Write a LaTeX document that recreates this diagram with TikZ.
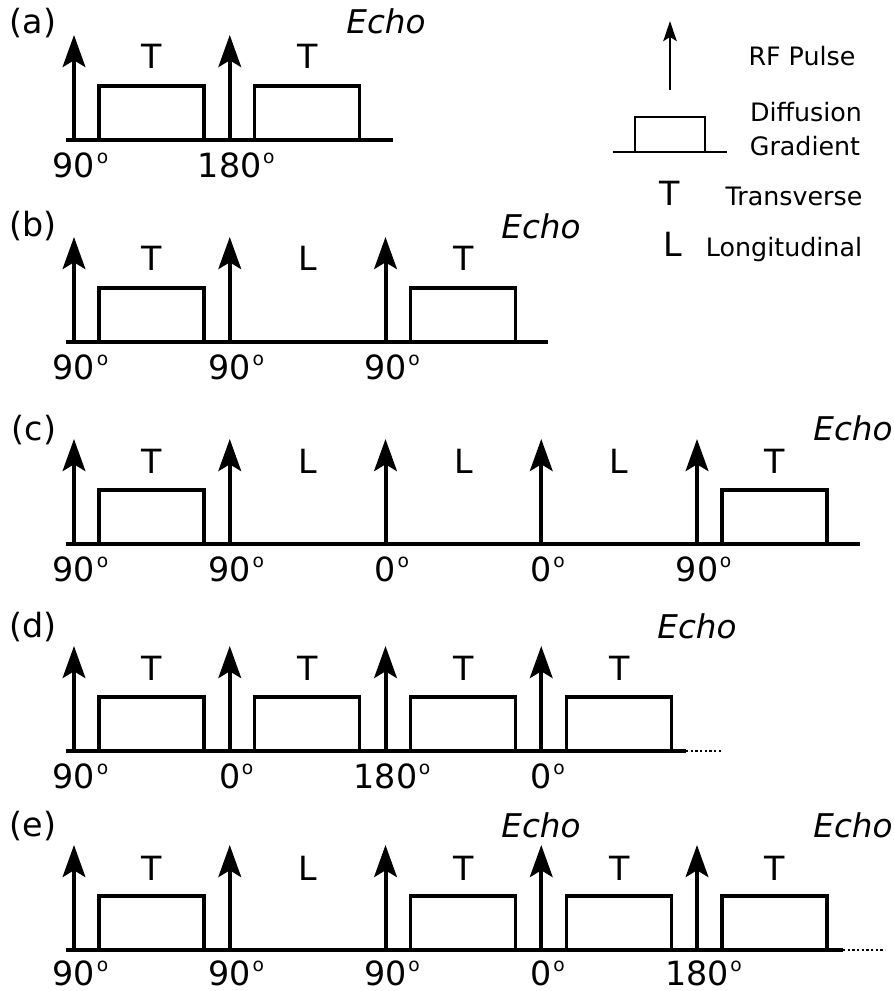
\documentclass[tikz,border=0pt]{standalone}
\usepackage{fontspec}
\setmainfont{DejaVu Sans}
\usetikzlibrary{arrows.meta,positioning}
\tikzset{
    pulseptr/.style={
        -{Stealth[length=24pt,width=17pt,inset=5pt]},
        line width=3pt
    },
    legptr/.style={
        -{Stealth[length=15pt,width=10pt,inset=3pt]},
        line width=2pt
    },
    axisline/.style={line width=3pt},
    dotline/.style={line width=2pt, dash pattern=on 1.7pt off 1.8pt},
    gradbox/.style={line width=2.6pt},
    legline/.style={line width=2.2pt},
    seglbl/.style={font=\fontsize{25}{30}\selectfont, inner sep=0pt},
    anglbl/.style={font=\fontsize{25}{30}\selectfont, inner sep=0pt},
    rowlbl/.style={font=\fontsize{25}{30}\selectfont, inner sep=0pt},
    echolbl/.style={font=\fontsize{24.5}{30}\selectfont\itshape, inner sep=0pt},
    legtxt/.style={font=\fontsize{19}{24.75}\selectfont, inner sep=0pt, anchor=base}
}
\newcommand{\degr}{\rlap{\hspace{1.2pt}\raisebox{10.4pt}{\fontsize{14}{14}\selectfont o}}}

\begin{document}
\begin{tikzpicture}[x=0.75pt, y=-0.75pt]
    \useasboundingbox (0,0) rectangle (893,991);

    % row (a)
    \begin{scope}[shift={(0,140)}]
        \draw[axisline] (66,0) -- (393,0);
        \foreach \k/\ang in {0/90, 1/180}
        {
            \draw[pulseptr] ({74+155.75*\k},0) -- ({74+155.75*\k},-105);
            \node[anglbl] (a-ang\k) at ({74+155.75*\k},25) {\ang\degr};
        }
        \foreach \k/\s in {0/T, 1/T}
        {
            \draw[gradbox] ({99+155.75*\k},0) -- ({99+155.75*\k},-54) -- ({204+155.75*\k},-54) -- ({204+155.75*\k},0);
            \node[seglbl] (a-seg\k) at ({152+155.75*\k},-84) {\s};
        }
        \node[rowlbl] (a-lbl) at (33,-117) {(a)};
        \node[echolbl] (a-echo) at (386,-119) {Echo};
    \end{scope}

    % row (b)
    \begin{scope}[shift={(0,342)}]
        \draw[axisline] (66,0) -- (548,0);
        \foreach \k/\ang in {0/90, 1/90, 2/90}
        {
            \draw[pulseptr] ({74+155.75*\k},0) -- ({74+155.75*\k},-105);
            \node[anglbl] (b-ang\k) at ({74+155.75*\k},25) {\ang\degr};
        }
        \foreach \k in {0, 2}
            \draw[gradbox] ({99+155.75*\k},0) -- ({99+155.75*\k},-54) -- ({204+155.75*\k},-54) -- ({204+155.75*\k},0);
        \foreach \k/\s in {0/T, 1/L, 2/T}
            \node[seglbl] (b-seg\k) at ({152+155.75*\k},-84) {\s};
        \node[rowlbl] (b-lbl) at (33,-116) {(b)};
        \node[echolbl] (b-echo) at (541,-116) {Echo};
    \end{scope}

    % row (c)
    \begin{scope}[shift={(0,544)}]
        \draw[axisline] (66,0) -- (860,0);
        \foreach \k/\ang in {0/90, 1/90, 2/0, 3/0, 4/90}
        {
            \draw[pulseptr] ({74+155.75*\k},0) -- ({74+155.75*\k},-105);
            \node[anglbl] (c-ang\k) at ({74+155.75*\k},25) {\ang\degr};
        }
        \foreach \k in {0, 4}
            \draw[gradbox] ({99+155.75*\k},0) -- ({99+155.75*\k},-54) -- ({204+155.75*\k},-54) -- ({204+155.75*\k},0);
        \foreach \k/\s in {0/T, 1/L, 2/L, 3/L, 4/T}
            \node[seglbl] (c-seg\k) at ({152+155.75*\k},-83) {\s};
        \node[rowlbl] (c-lbl) at (34,-114) {(c)};
        \node[echolbl] (c-echo) at (853,-116) {Echo};
    \end{scope}

    % row (d)
    \begin{scope}[shift={(0,751)}]
        \draw[axisline] (66,0) -- (686,0);
        \draw[dotline] (686,0) -- (723,0);
        \foreach \k/\ang in {0/90, 1/0, 2/180, 3/0}
        {
            \draw[pulseptr] ({74+155.75*\k},0) -- ({74+155.75*\k},-105);
            \node[anglbl] (d-ang\k) at ({74+155.75*\k},25) {\ang\degr};
        }
        \foreach \k/\s in {0/T, 1/T, 2/T, 3/T}
        {
            \draw[gradbox] ({99+155.75*\k},0) -- ({99+155.75*\k},-54) -- ({204+155.75*\k},-54) -- ({204+155.75*\k},0);
            \node[seglbl] (d-seg\k) at ({152+155.75*\k},-83) {\s};
        }
        \node[rowlbl] (d-lbl) at (33,-124) {(d)};
        \node[echolbl] (d-echo) at (697,-125) {Echo};
    \end{scope}

    % row (e)
    \begin{scope}[shift={(0,950)}]
        \draw[axisline] (66,0) -- (843,0);
        \draw[dotline] (843,0) -- (885,0);
        \foreach \k/\ang in {0/90, 1/90, 2/90, 3/0, 4/180}
        {
            \draw[pulseptr] ({74+155.75*\k},0) -- ({74+155.75*\k},-105);
            \node[anglbl] (e-ang\k) at ({74+155.75*\k},23) {\ang\degr};
        }
        \foreach \k in {0, 2, 3, 4}
            \draw[gradbox] ({99+155.75*\k},0) -- ({99+155.75*\k},-54) -- ({204+155.75*\k},-54) -- ({204+155.75*\k},0);
        \foreach \k/\s in {0/T, 1/L, 2/T, 3/T, 4/T}
            \node[seglbl] (e-seg\k) at ({152+155.75*\k},-82) {\s};
        \node[rowlbl] (e-lbl) at (33,-124) {(e)};
        \node[echolbl] (e-echo1) at (541,-125) {Echo};
        \node[echolbl] (e-echo2) at (853,-125) {Echo};
    \end{scope}

    % legend
    \draw[legptr] (670,90) -- (670,21);
    \node[legtxt] (rf) at (802,66) {RF Pulse};
    \draw[legline] (613,152) -- (727,152);
    \draw[legline] (635,152) -- (635,117) -- (705,117) -- (705,152);
    \node[legtxt] (diff) at (806,122) {Diffusion};
    \node[legtxt] (grad) at (805,156) {Gradient};
    \node[seglbl, anchor=base] (leg-t) at (670,205) {T};
    \node[legtxt] (trans) at (794,205) {Transverse};
    \node[seglbl, anchor=base] (leg-l) at (673,257) {L};
    \node[legtxt] (longi) at (784,257) {Longitudinal};
\end{tikzpicture}
\end{document}
